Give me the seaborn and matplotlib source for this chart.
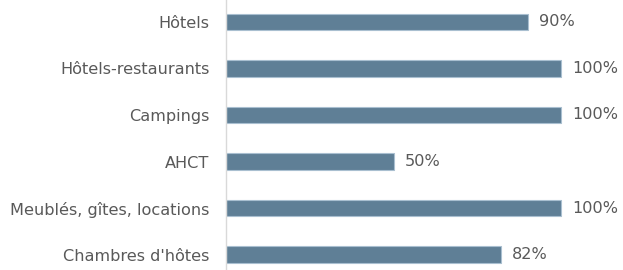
import matplotlib
matplotlib.use("Agg")
import matplotlib.pyplot as plt
import seaborn as sns
import pandas as pd

# --- Data ---
categories = ["Hôtels", "Hôtels-restaurants", "Campings", "AHCT",
              "Meublés, gîtes, locations", "Chambres d'hôtes"]
values = [90, 100, 100, 50, 100, 82]

df = pd.DataFrame({"category": categories, "value": values})

# --- Style ---
sns.set_theme(style="white")
plt.rcParams["font.family"] = ["DejaVu Sans"]

bar_color = "#5f7f96"
text_color = "#595959"

fig = plt.figure(figsize=(6.23, 2.70), dpi=100)
ax = fig.add_axes([226 / 623, 0, 1 - 226 / 623, 1])

sns.barplot(data=df, x="value", y="category", color=bar_color, width=0.355,
            edgecolor="#a9bfd0", linewidth=0.8, saturation=1, ax=ax)

# value labels
ax.bar_label(ax.containers[0], labels=[f"{v}%" for v in values],
             padding=8, fontsize=11.6, color=text_color)

ax.set_xlim(0, 118.5)
ax.set_ylim(len(categories) - 1 + 0.33, -0.47)
ax.set_xlabel("")
ax.set_ylabel("")
ax.set_xticks([])
ax.tick_params(axis="y", length=0, pad=12, labelsize=11.6, labelcolor=text_color)

for side in ["top", "right", "bottom"]:
    ax.spines[side].set_visible(False)
ax.spines["left"].set_color("#d9d9d9")
ax.spines["left"].set_linewidth(1)

fig.savefig("out.png", dpi=100)
